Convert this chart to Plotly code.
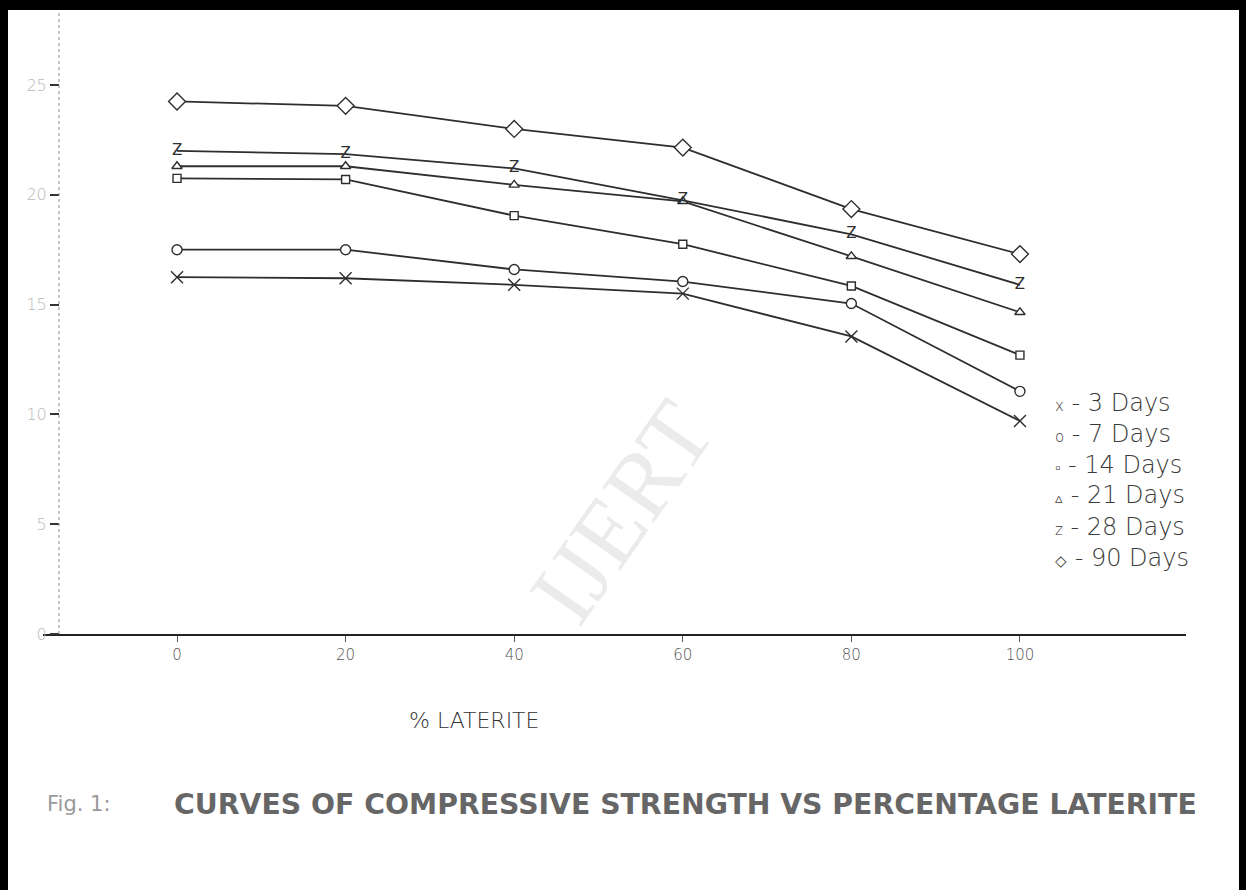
import plotly.graph_objects as go

# ---- data ----
laterite_pct = [0, 20, 40, 60, 80, 100]
days_3 = [16.25, 16.2, 15.9, 15.5, 13.55, 9.7]
days_7 = [17.5, 17.5, 16.6, 16.05, 15.05, 11.05]
days_14 = [20.75, 20.7, 19.05, 17.75, 15.85, 12.7]
days_21 = [21.3, 21.3, 20.45, 19.7, 17.2, 14.65]
days_28 = [22.0, 21.85, 21.2, 19.75, 18.2, 15.9]
days_90 = [24.25, 24.05, 23.0, 22.15, 19.35, 17.3]
y_ticks = [0, 5, 10, 15, 20, 25]
x_ticks = [0, 20, 40, 60, 80, 100]
legend_labels = ["3 Days", "7 Days", "14 Days", "21 Days", "28 Days", "90 Days"]
legend_symbols = ["x", "o", "\u25AB", "\u25B5", "z", "\u25C7"]

W, H = 1246, 890
L, R, T, B = 43, 1186, 10, 634  # plot area in pixels


def px(x):
    return (x - L) / (R - L)


def py(y):
    return (B - y) / (B - T)


LINE = "#2e2e2e"
fig = go.Figure()

series = [
    (days_3, dict(symbol="x-thin-open", size=12, color=LINE)),
    (days_7, dict(symbol="circle", size=10, color="white")),
    (days_14, dict(symbol="square", size=8, color="white")),
    (days_21, dict(symbol="triangle-up", size=9, color="white")),
    (days_28, None),
    (days_90, dict(symbol="diamond", size=13, color="white")),
]

for (vals, mk), name in zip(series, legend_labels):
    if mk is None:
        fig.add_trace(go.Scatter(
            x=laterite_pct, y=vals, mode="lines+text", name=name,
            text=["Z"] * len(vals), textposition="middle center",
            textfont=dict(family="DejaVu Sans", size=15, color=LINE),
            line=dict(color=LINE, width=1.8), showlegend=False,
        ))
    else:
        fig.add_trace(go.Scatter(
            x=laterite_pct, y=vals, mode="lines+markers", name=name,
            marker=dict(line=dict(width=1.4, color=LINE), **mk),
            line=dict(color=LINE, width=1.8), showlegend=False,
        ))

xr0 = -15.9
xr1 = 119.7
fig.update_layout(
    width=W, height=H,
    margin=dict(l=L, r=W - R, t=T, b=H - B),
    paper_bgcolor="white", plot_bgcolor="white",
    showlegend=False,
    xaxis=dict(
        range=[xr0, xr1], tickvals=x_ticks, ticks="outside", ticklen=6,
        tickcolor="#555", tickwidth=1, showline=True, linecolor="#222",
        linewidth=2, showgrid=False, zeroline=False,
        tickfont=dict(family="DejaVu Sans", weight=200, size=15, color="#555"),
    ),
    yaxis=dict(
        range=[0, (B - T) / 21.96], tickvals=y_ticks, ticks="outside",
        ticklen=9, tickcolor="#333", tickwidth=1.5, showline=False,
        showgrid=False, zeroline=False, anchor="free", position=px(59),
        tickfont=dict(family="DejaVu Sans", weight=200, size=16, color="#b8b8b8"),
    ),
)

shapes = []
# dotted vertical axis line
shapes.append(dict(type="line", xref="paper", yref="paper", x0=px(59), x1=px(59),
                   y0=0, y1=1, line=dict(color="#8a8a8a", width=1, dash="dot")))
# black frame (top, left, right)
shapes.append(dict(type="rect", xref="paper", yref="paper", x0=px(0), x1=px(W),
                   y0=py(10), y1=py(0), fillcolor="black", line=dict(width=0)))
shapes.append(dict(type="rect", xref="paper", yref="paper", x0=px(0), x1=px(8),
                   y0=py(H), y1=py(0), fillcolor="black", line=dict(width=0)))
shapes.append(dict(type="rect", xref="paper", yref="paper", x0=px(1239), x1=px(W),
                   y0=py(H), y1=py(0), fillcolor="black", line=dict(width=0)))
fig.update_layout(shapes=shapes)

ann = []
# legend
row_y = [403, 434, 465, 495, 527, 558]
for sym, lab, yy in zip(legend_symbols, legend_labels, row_y):
    ann.append(dict(xref="paper", yref="paper", x=px(1053), y=py(yy),
                    xanchor="left", yanchor="middle", showarrow=False,
                    text=f"<span style='font-size:15px'>{sym}</span> - {lab}",
                    font=dict(family="DejaVu Sans", weight=200, size=24, color="#3a3a3a")))
# x-axis title
ann.append(dict(xref="paper", yref="paper", x=px(474), y=py(720),
                xanchor="center", yanchor="middle", showarrow=False,
                text="% LATERITE",
                font=dict(family="DejaVu Sans", weight=200, size=22, color="#333")))
# caption
ann.append(dict(xref="paper", yref="paper", x=px(45), y=py(804),
                xanchor="left", yanchor="middle", showarrow=False,
                text="Fig. 1:",
                font=dict(family="DejaVu Sans", size=21, color="#9a9a9a")))
ann.append(dict(xref="paper", yref="paper", x=px(172), y=py(804),
                xanchor="left", yanchor="middle", showarrow=False,
                text="<b>CURVES OF COMPRESSIVE STRENGTH VS PERCENTAGE LATERITE</b>",
                font=dict(family="DejaVu Sans", size=28.3, color="#666666")))
# watermark
ann.append(dict(xref="paper", yref="paper", x=px(622), y=py(512),
                xanchor="center", yanchor="middle", showarrow=False,
                text="IJERT", textangle=-55,
                font=dict(family="Liberation Serif", size=95, color="rgba(205,205,205,0.4)")))
fig.update_layout(annotations=ann)

fig.write_html("out.html", config={"displayModeBar": False},
               post_script="document.body.style.margin='0';")
